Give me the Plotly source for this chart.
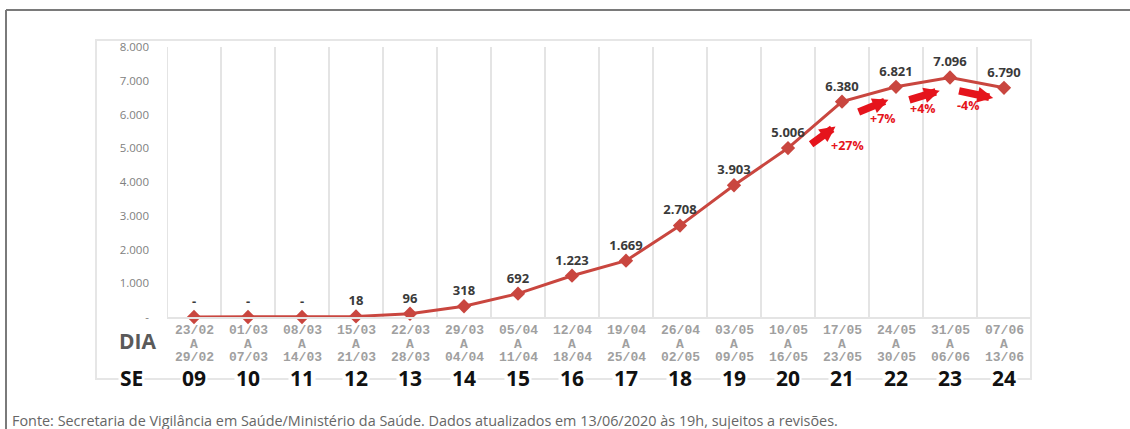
import plotly.graph_objects as go

# ---- data ----
se_weeks = ["09", "10", "11", "12", "13", "14", "15", "16", "17", "18", "19", "20", "21", "22", "23", "24"]
date_start = ["23/02", "01/03", "08/03", "15/03", "22/03", "29/03", "05/04", "12/04", "19/04", "26/04",
              "03/05", "10/05", "17/05", "24/05", "31/05", "07/06"]
date_end = ["29/02", "07/03", "14/03", "21/03", "28/03", "04/04", "11/04", "18/04", "25/04", "02/05",
            "09/05", "16/05", "23/05", "30/05", "06/06", "13/06"]
deaths = [0, 0, 0, 18, 96, 318, 692, 1223, 1669, 2708, 3903, 5006, 6380, 6821, 7096, 6790]
y_ticks = [0, 1000, 2000, 3000, 4000, 5000, 6000, 7000, 8000]
y_tick_text = ["-", "1.000", "2.000", "3.000", "4.000", "5.000", "6.000", "7.000", "8.000"]
pct_from = [11, 12, 13, 14]  # index of the week where each % change starts
source = ("Fonte: Secretaria de Vigilância em Saúde/Ministério da Saúde. "
          "Dados atualizados em 13/06/2020 às 19h, sujeitos a revisões.")


def fmt(v):
    if v == 0:
        return "-"
    return f"{v:,}".replace(",", ".")


W, H = 1130, 429
L, R, T, B = 167, 1031, 47, 317   # plot area in pixels


def px(x):
    return (x - L) / (R - L)


def py(y):
    return (B - y) / (B - T)


xs = list(range(len(se_weeks)))
LINE = "#c9463f"

fig = go.Figure()
fig.add_trace(go.Scatter(
    x=xs, y=deaths, mode="lines+markers+text",
    line=dict(color=LINE, width=3),
    marker=dict(symbol="diamond", size=11, color=LINE),
    text=[fmt(v) for v in deaths], textposition="top center",
    textfont=dict(family="Open Sans", size=13, color="#3a3a3a", weight="bold"),
    cliponaxis=False, hoverinfo="skip", showlegend=False,
))

shapes = []
# vertical gridlines at category boundaries
for i in range(len(se_weeks)):
    shapes.append(dict(type="line", xref="x", yref="paper", x0=i - 0.5, x1=i - 0.5,
                       y0=0, y1=1.0, line=dict(color="#e4e4e4", width=2), layer="below"))
# faint outer box around chart + table
shapes.append(dict(type="rect", xref="paper", yref="paper", x0=px(96), x1=1.0,
                   y0=py(379), y1=py(40), line=dict(color="#e6e6e6", width=2), layer="below"))
# page frame (left and top)
shapes.append(dict(type="line", xref="paper", yref="paper", x0=px(6), x1=px(6),
                   y0=py(10), y1=py(440), line=dict(color="#7a7a7a", width=2)))
shapes.append(dict(type="line", xref="paper", yref="paper", x0=px(6), x1=px(1140),
                   y0=py(10), y1=py(10), line=dict(color="#7a7a7a", width=2)))

ann = []
MONO = dict(family="Liberation Mono, DejaVu Sans Mono", size=13, color="#a0a0a0", weight="bold")
for i in xs:
    ann.append(dict(x=i, y=py(330), xref="x", yref="paper", text=date_start[i], showarrow=False,
                    font=MONO, xanchor="center", yanchor="middle"))
    ann.append(dict(x=i, y=py(344), xref="x", yref="paper", text="A", showarrow=False,
                    font=MONO, xanchor="center", yanchor="middle"))
    ann.append(dict(x=i, y=py(357), xref="x", yref="paper", text=date_end[i], showarrow=False,
                    font=MONO, xanchor="center", yanchor="middle"))
    ann.append(dict(x=i, y=py(378), xref="x", yref="paper", text=se_weeks[i], showarrow=False,
                    font=dict(family="Open Sans", size=21, color="#111111", weight="bold"),
                    xanchor="center", yanchor="middle", bgcolor="white"))
ann.append(dict(x=px(137), y=py(341), xref="paper", yref="paper", text="DIA", showarrow=False,
                font=dict(family="Open Sans", size=21, color="#5a5a5a", weight="bold"),
                xanchor="center", yanchor="middle"))
ann.append(dict(x=px(131), y=py(378), xref="paper", yref="paper", text="SE", showarrow=False,
                font=dict(family="Open Sans", size=21, color="#111111", weight="bold"),
                xanchor="center", yanchor="middle", bgcolor="white"))
ann.append(dict(x=px(10), y=py(420), xref="paper", yref="paper", text=source, showarrow=False,
                font=dict(family="Open Sans", size=14.4, color="#666666"),
                xanchor="left", yanchor="middle"))


def interp(xv):
    xv = min(xv, len(deaths) - 1.0001)
    i0 = int(xv)
    f = xv - i0
    return deaths[i0] + f * (deaths[i0 + 1] - deaths[i0])


# red change arrows with percentages
tail_dx = [0.40, 0.28, 0.22, 0.14]
head_dx = [0.88, 0.86, 0.81, 0.80]
tail_off = [470, 450, 463, 342]
head_off = [570, 325, 340, 365]
lab_dx = [1.11, 0.76, 0.50, 0.33]
lab_off = [1340, 830, 770, 740]
for k, i in enumerate(pct_from):
    pct = round((deaths[i + 1] / deaths[i] - 1) * 100)
    label = f"{pct:+d}%"
    tx, hx = i + tail_dx[k], i + head_dx[k]
    ty, hy = interp(tx) - tail_off[k], interp(hx) - head_off[k]
    ann.append(dict(x=hx, y=hy, ax=tx, ay=ty, xref="x", yref="y", axref="x", ayref="y",
                    text="", showarrow=True, arrowhead=2, arrowsize=0.42, arrowwidth=7.5,
                    arrowcolor="#e5141c", standoff=0))
    lx = i + lab_dx[k]
    ly = interp(lx) - lab_off[k]
    ann.append(dict(x=lx, y=ly, xref="x", yref="y", text=label, showarrow=False,
                    font=dict(family="Open Sans", size=12.5, color="#e5141c", weight="bold"),
                    xanchor="center", yanchor="middle"))

fig.update_layout(
    width=W, height=H,
    margin=dict(l=L, r=W - R, t=T, b=H - B, pad=0),
    paper_bgcolor="white", plot_bgcolor="white",
    xaxis=dict(range=[-0.5, len(se_weeks) - 0.5], showticklabels=False, showgrid=False,
               zeroline=False, showline=True, linecolor="#e4e4e4", linewidth=2, ticks=""),
    yaxis=dict(range=[0, 8000], tickvals=y_ticks, ticktext=y_tick_text, showgrid=False,
               zeroline=False, showline=False, ticks="", ticklabelstandoff=17,
               tickfont=dict(family="Open Sans", size=11.5, color="#808080")),
    shapes=shapes, annotations=ann,
)

fig.write_html("out.html", config={"displayModeBar": False},
               post_script="document.body.style.margin='0';")
